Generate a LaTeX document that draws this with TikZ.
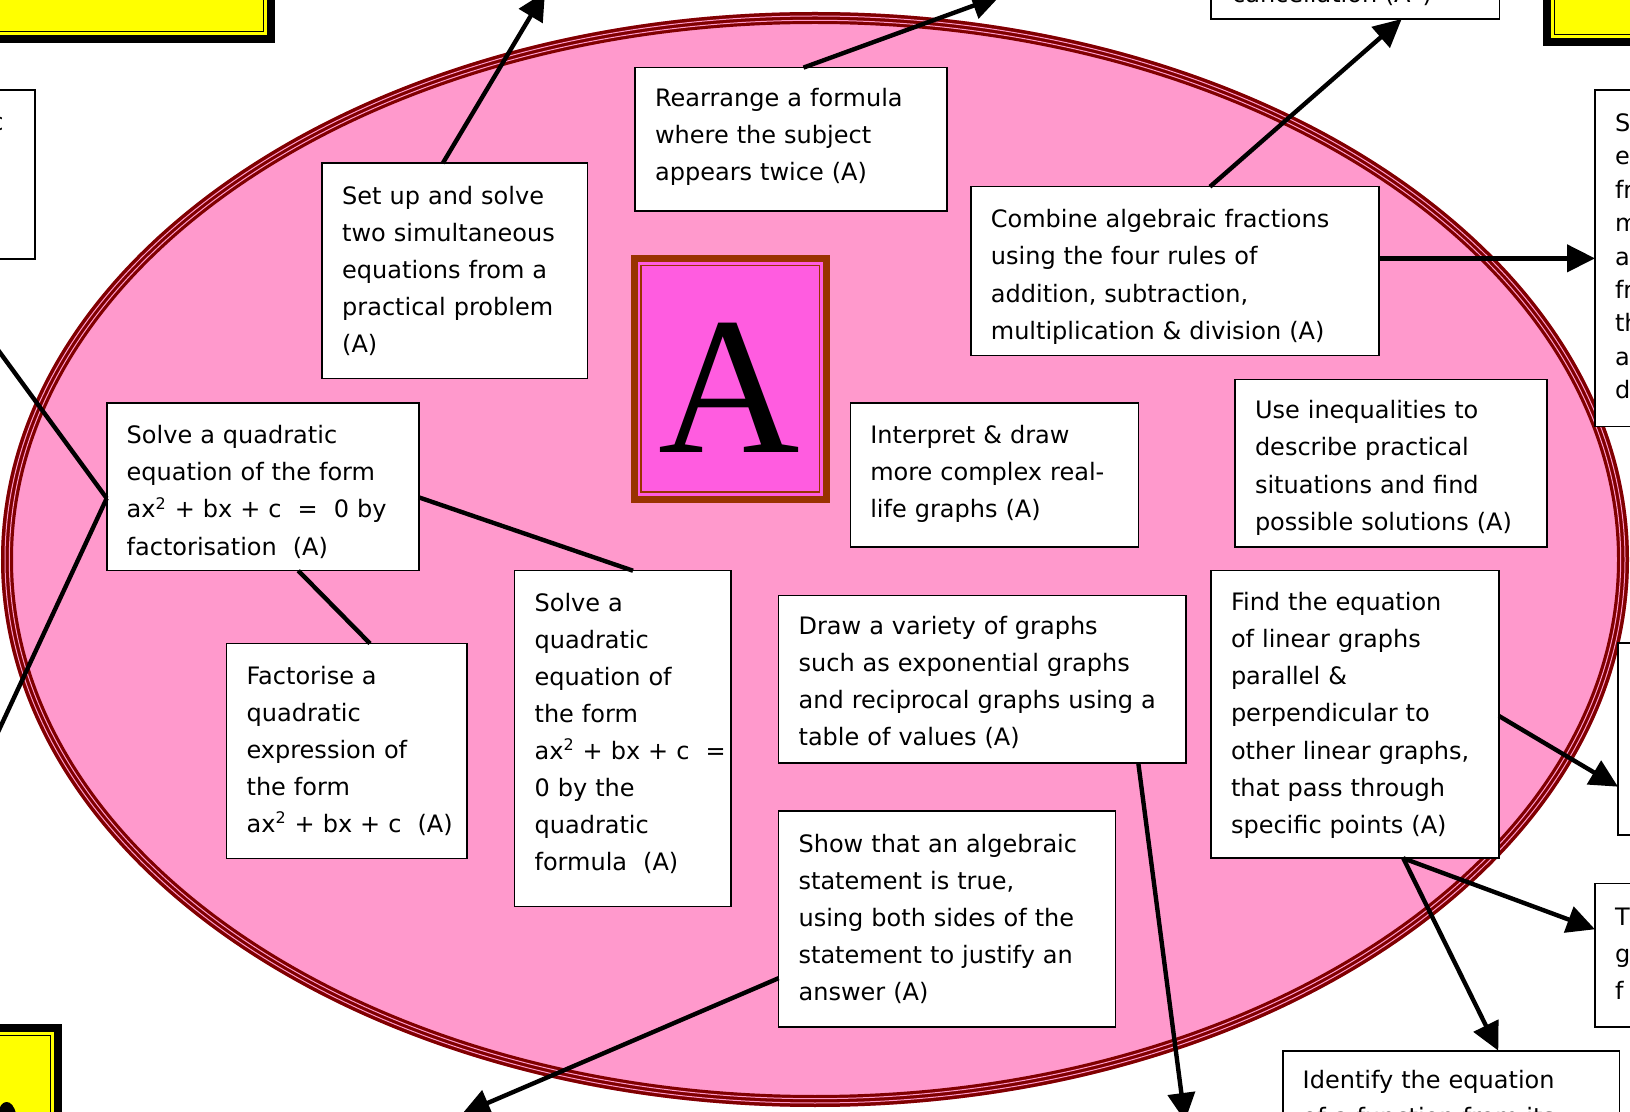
\documentclass[tikz,border=0pt]{standalone}
\usepackage{fontspec}
\setmainfont{DejaVu Sans}
\newfontfamily\serifA{Liberation Serif}
\usetikzlibrary{arrows.meta,calc}
\definecolor{ellfill}{HTML}{FF99CC}
\definecolor{ellline}{HTML}{800000}
\definecolor{aboxfill}{HTML}{FF5CE0}
\definecolor{aboxline}{HTML}{993300}
\definecolor{yel}{HTML}{FFFF00}
\newcommand\ml[2][0pt]{\raisebox{#1}[\height][\depth]{\begin{tabular}{@{}l@{}}#2\end{tabular}}}
\begin{document}
\begin{tikzpicture}[x=0.5pt,y=-0.5pt,
  txtbox/.style={draw=black, line width=0.8pt, fill=white, inner xsep=10pt, inner ysep=0pt,
    outer sep=0pt, align=left, anchor=north west, font=\fontsize{12}{18.55}\selectfont},
  bx/.style n args={3}{minimum width=#1, minimum height=#2, text width=#3},
  conn/.style={line width=2.2pt},
  arr/.style={line width=2.2pt, -{Triangle[length=14pt,width=13.5pt]}},
  lbl/.style={inner sep=0pt, font=\fontsize{12}{18.55}\selectfont},
]
\path[use as bounding box] (0,0) rectangle (1630,1112);
\clip (0,0) rectangle (1630,1112);

% yellow boxes (partly visible)
\fill[yel] (-100,-100) rectangle (275,43.3);
\draw[black,line width=4pt] (-100,-100) rectangle (271,39.3);
\draw[black,line width=0.6pt] (-100,-100) rectangle (263.5,31.8);
\fill[yel] (1543.3,-100) rectangle (1800,45.7);
\draw[black,line width=4pt] (1547.3,-100) rectangle (1800,41.7);
\draw[black,line width=0.6pt] (1554.8,-100) rectangle (1800,34.2);
\fill[yel] (-100,1024) rectangle (61.7,1250);
\draw[black,line width=4pt] (-100,1028) rectangle (57.7,1250);
\draw[black,line width=0.6pt] (-100,1035.5) rectangle (50.2,1250);
\fill[black] (-2,1114) .. controls (0,1098) and (13,1098) .. (16,1114) -- cycle;

% ellipse
\fill[ellfill] (815,559.5) ellipse [x radius=814, y radius=547.5];
\draw[ellline, line width=6pt] (815,559.5) ellipse [x radius=808, y radius=541.5];
\draw[ellfill, line width=0.5pt] (815,559.5) ellipse [x radius=810, y radius=543.5];
\draw[ellfill, line width=0.5pt] (815,559.5) ellipse [x radius=805.7, y radius=539.2];

% A box
\node[draw=aboxline, line width=3.5pt, fill=aboxfill, inner sep=0pt, outer sep=0pt,
      minimum width=96.15pt, minimum height=120.35pt] (abox) at (730.35,378.85) {};
\draw[aboxline, line width=0.8pt] ($(abox.north west)+(7,7)$) rectangle ($(abox.south east)+(-7,-7)$);
\node[anchor=base, inner sep=0pt, font=\serifA\fontsize{98}{98}\selectfont] (aletter) at (729,453) {A};

% partial boxes at the edges
\node[txtbox, bx={117.5pt}{84.65pt}{97.5pt}] (D) at (-200,90) {};
\node[lbl, anchor=base east] (Dtext) at (4,131) {c};
\node[txtbox, bx={144.3pt}{59.5pt}{124.3pt}] (cancel) at (1210.7,-100) {};
\node[lbl, anchor=base west] (canceltext) at (1231.7,3) {cancellation (A*)};
\node[txtbox, bx={102.5pt}{168.35pt}{82.5pt}, font=\fontsize{12}{16.7}\selectfont] (Q) at (1595,90)
  {\ml{S\\ea\\fr\\m\\al\\fr\\th\\ap\\d}};
\node[txtbox, bx={91pt}{96pt}{71pt}] (R) at (1618,643) {};
\node[txtbox, bx={102.5pt}{71.7pt}{82.5pt}] (S) at (1595,883.3) {\ml{T\\g\\f}};
\node[txtbox, bx={168.3pt}{49.3pt}{148.3pt}] (P) at (1282.7,1050.7)
  {\ml{Identify the equation\\of a function from its}};

% main boxes
\node[txtbox, bx={132.55pt}{107.6pt}{112.55pt}] (E) at (322.2,163.2)
  {\ml{Set up and solve\\two simultaneous\\equations from a\\practical problem\\(A)}};
\node[txtbox, bx={155.95pt}{71.7pt}{135.95pt}] (F) at (635.1,67.6)
  {\ml[1.5pt]{Rearrange a formula\\where the subject\\appears twice (A)}};
\node[txtbox, bx={203.9pt}{84.4pt}{183.9pt}] (G) at (970.9,186.7)
  {\ml[-2.5pt]{Combine algebraic fractions\\using the four rules of\\addition, subtraction,\\multiplication \& division (A)}};
\node[txtbox, bx={156pt}{83.7pt}{136pt}] (H) at (106.7,403.3)
  {\ml[-2.5pt]{Solve a quadratic\\equation of the form\\ax\textsuperscript{2} + bx + c\ \ =\ \ 0 by\\factorisation\ \ (A)}};
\node[txtbox, bx={144pt}{71.75pt}{124pt}] (I) at (850.3,403.3)
  {\ml[1pt]{Interpret \& draw\\more complex real-\\life graphs (A)}};
\node[txtbox, bx={155.9pt}{83.7pt}{135.9pt}] (J) at (1235,379.4)
  {\ml[-2pt]{Use inequalities to\\describe practical\\situations and find\\possible solutions (A)}};
\node[txtbox, bx={120.05pt}{107.55pt}{100.05pt}] (K) at (226.6,643.5)
  {\ml{Factorise a\\quadratic\\expression of\\the form\\ax\textsuperscript{2} + bx + c\ \ (A)}};
\node[txtbox, bx={108.1pt}{167.85pt}{88.1pt}] (L) at (514.6,570.7)
  {\ml[2.5pt]{Solve a\\quadratic\\equation of\\the form\\ax\textsuperscript{2} + bx + c\ \ =\\0 by the\\quadratic\\formula\ \ (A)}};
\node[txtbox, bx={203.75pt}{83.7pt}{183.75pt}] (M) at (778.6,595.6)
  {\ml[-1.5pt]{Draw a variety of graphs\\such as exponential graphs\\and reciprocal graphs using a\\table of values (A)}};
\node[txtbox, bx={168.4pt}{108.1pt}{148.4pt}] (N) at (778.6,810.8)
  {\ml{Show that an algebraic\\statement is true,\\using both sides of the\\statement to justify an\\answer (A)}};
\node[txtbox, bx={144pt}{143.8pt}{124pt}] (O) at (1211,570.7)
  {\ml{Find the equation\\of linear graphs\\parallel \&\\perpendicular to\\other linear graphs,\\that pass through\\specific points (A)}};

% free ends
\coordinate (e1) at (545,-8);
\coordinate (f1) at (1000,-4);
\coordinate (h1) at (-10,339);
\coordinate (h2) at (-10,749.3);
\coordinate (m1) at (1185,1121);
\coordinate (n1) at (462,1114);

% connectors
\draw[arr] ($(E.north west)+(120.6,0)$) -- (e1);
\draw[arr] ($(F.north west)+(168.4,0)$) -- (f1);
\draw[arr] ($(G.north west)+(239.1,0)$) -- ($(cancel.south west)+(191,0)$);
\draw[arr] (G.east |- Q.west) -- (Q.west);
\draw[conn] ($(H.north west)+(0,95)$) -- (h1);
\draw[conn] ($(H.north west)+(0,95)$) -- (h2);
\draw[conn] ($(H.north east)+(0,94)$) -- ($(L.north west)+(118.4,0)$);
\draw[conn] ($(H.south west)+(191.6,0)$) -- ($(K.north west)+(143.4,0)$);
\draw[arr] ($(M.south west)+(359.7,0)$) -- (m1);
\draw[arr] ($(N.north west)+(0,167.4)$) -- (n1);
\draw[arr] ($(O.north east)+(0,145.3)$) -- ($(R.north west)+(0,143.7)$);
\draw[arr] ($(O.south west)+(192.3,0)$) -- ($(S.north west)+(0,46)$);
\draw[arr] ($(O.south west)+(192.3,0)$) -- ($(P.north west)+(215.6,0)$);
\end{tikzpicture}
\end{document}
